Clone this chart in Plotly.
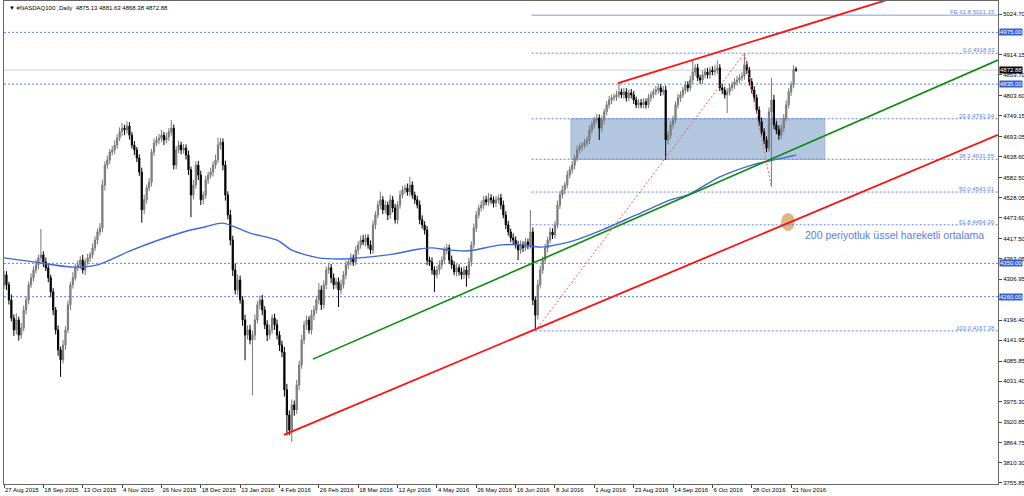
import plotly.graph_objects as go

# ---------------- data ----------------
closes = [
    4319, 4292, 4251, 4202, 4170, 4197, 4156, 4175, 4224, 4251,
    4292, 4311, 4332, 4346, 4365, 4373, 4354, 4338, 4311, 4273,
    4224, 4170, 4116, 4089, 4129, 4170, 4238, 4292, 4311, 4338,
    4346, 4359, 4332, 4354, 4365, 4373, 4392, 4413, 4435, 4446,
    4562, 4616, 4630, 4651, 4657, 4670, 4689, 4706, 4716, 4711,
    4722, 4697, 4670, 4657, 4635, 4597, 4495, 4522, 4554, 4570,
    4651, 4676, 4684, 4689, 4697, 4684, 4692, 4706, 4716, 4616,
    4657, 4670, 4657, 4662, 4643, 4603, 4535, 4562, 4616, 4589,
    4522, 4535, 4576, 4589, 4597, 4616, 4630, 4670, 4678, 4616,
    4535, 4481, 4413, 4332, 4278, 4305, 4251, 4197, 4156, 4170,
    4143, 4156, 4197, 4238, 4251, 4224, 4184, 4156, 4170, 4202,
    4184, 4156, 4129, 4110, 4008, 3940, 3899, 3967, 3954, 4021,
    4075, 4143, 4184, 4197, 4170, 4210, 4224, 4251, 4278, 4238,
    4292, 4332, 4338, 4311, 4292, 4300, 4278, 4292, 4319, 4346,
    4354, 4365, 4354, 4386, 4400, 4413, 4408, 4419, 4400, 4386,
    4454, 4481, 4508, 4522, 4495, 4508, 4481, 4522, 4500, 4468,
    4508, 4535, 4549, 4554, 4543, 4562, 4535, 4522, 4508, 4468,
    4454, 4440, 4359, 4354, 4332, 4319, 4332, 4346, 4359, 4386,
    4392, 4359, 4346, 4327, 4338, 4327, 4319, 4332, 4319, 4354,
    4400, 4446, 4481, 4500, 4508, 4522, 4516, 4527, 4522, 4513,
    4522, 4527, 4508, 4481, 4454, 4435, 4419, 4413, 4400, 4386,
    4400, 4392, 4408, 4400, 4435, 4251, 4210, 4292, 4332, 4359,
    4392, 4413, 4435, 4427, 4454, 4508, 4535, 4549, 4562, 4589,
    4603, 4616, 4635, 4657, 4665, 4670, 4676, 4684, 4711, 4725,
    4738, 4743, 4716, 4738, 4760, 4779, 4792, 4798, 4800, 4806,
    4814, 4806, 4814, 4798, 4811, 4806, 4792, 4779, 4784, 4779,
    4787, 4779, 4798, 4806, 4814, 4819, 4825, 4814, 4819, 4684,
    4697, 4725, 4738, 4779, 4798, 4806, 4819, 4833, 4825, 4846,
    4868, 4879, 4852, 4846, 4860, 4868, 4860, 4873, 4868, 4873,
    4879, 4825, 4819, 4806, 4814, 4825, 4833, 4841, 4846, 4852,
    4857, 4887, 4873, 4841, 4819, 4798, 4765, 4733, 4706, 4684,
    4662, 4760, 4792, 4725, 4711, 4697, 4716, 4743, 4779, 4814, 4833, 4875.13, 4872.88,
]
first_open = 4290

up_wick = [
    12, 10, 8, 15, 10, 18, 9, 14, 12, 10,
    9, 12, 10, 14, 8, 70, 10, 12, 9, 8,
    10, 8, 12, 9, 14, 10, 12, 8, 15, 10,
    12, 10, 14, 9, 11, 8, 12, 10, 9, 13,
    14, 10, 12, 9, 11, 13, 10, 12, 14, 9,
    12, 10, 9, 11, 8, 10, 12, 14, 9, 11,
    9, 12, 10, 11, 14, 9, 12, 10, 22, 10,
    10, 12, 9, 11, 10, 12, 9, 14, 10, 11,
    12, 10, 11, 9, 12, 10, 14, 20, 12, 10,
    12, 10, 14, 12, 18, 15, 12, 10, 14, 12,
    14, 12, 15, 10, 12, 14, 10, 12, 14, 10,
    12, 14, 10, 12, 14, 16, 12, 15, 12, 14,
    12, 14, 10, 12, 10, 14, 12, 10, 19, 12,
    12, 10, 14, 10, 12, 10, 12, 14, 10, 12,
    10, 12, 9, 11, 10, 12, 14, 10, 9, 12,
    12, 10, 11, 22, 10, 12, 9, 14, 10, 11,
    10, 12, 11, 9, 12, 22, 10, 9, 11, 12,
    12, 10, 11, 9, 12, 10, 11, 12, 10, 9,
    11, 9, 12, 10, 11, 9, 12, 10, 11, 12,
    10, 12, 11, 9, 12, 10, 11, 14, 10, 9,
    10, 9, 11, 12, 10, 11, 9, 12, 10, 11,
    12, 10, 11, 9, 60, 12, 10, 14, 12, 10,
    11, 9, 12, 10, 11, 12, 10, 11, 9, 12,
    10, 11, 9, 12, 10, 9, 11, 10, 12, 9,
    9, 11, 10, 12, 9, 10, 11, 9, 10, 11,
    24, 9, 11, 10, 9, 11, 10, 9, 10, 11,
    10, 9, 11, 10, 9, 11, 12, 10, 11, 12,
    11, 10, 12, 9, 11, 10, 9, 11, 10, 12,
    32, 10, 11, 9, 12, 10, 11, 9, 10, 14,
    20, 10, 11, 9, 10, 11, 9, 10, 11, 10,
    10, 32, 11, 9, 10, 11, 9, 10, 12, 10,
    10, 12, 60, 14, 11, 12, 10, 11, 12, 10, 9, 11, 6.5,
]
dn_wick = [
    10, 14, 12, 9, 16, 12, 15, 10, 8, 12,
    12, 8, 10, 9, 12, 10, 14, 9, 12, 15,
    14, 12, 16, 46, 10, 12, 9, 14, 10, 8,
    9, 12, 10, 14, 8, 11, 10, 9, 12, 10,
    12, 15, 10, 11, 9, 12, 10, 8, 12, 14,
    10, 12, 9, 14, 11, 10, 35, 12, 10, 9,
    12, 10, 9, 12, 10, 14, 9, 11, 10, 12,
    11, 9, 12, 10, 12, 14, 60, 12, 10, 14,
    14, 12, 10, 11, 9, 12, 10, 9, 12, 14,
    15, 12, 14, 16, 12, 14, 10, 16, 68, 12,
    12, 150, 14, 10, 12, 14, 12, 16, 12, 10,
    14, 12, 16, 14, 18, 54, 14, 32, 16, 12,
    14, 10, 12, 14, 10, 12, 14, 10, 12, 14,
    10, 12, 10, 14, 12, 10, 46, 12, 10, 12,
    12, 10, 11, 9, 12, 10, 9, 12, 10, 11,
    10, 12, 9, 11, 12, 10, 14, 11, 12, 10,
    12, 10, 9, 11, 10, 12, 10, 11, 9, 12,
    10, 12, 14, 11, 12, 46, 10, 12, 11, 10,
    12, 10, 11, 9, 12, 10, 12, 11, 32, 10,
    12, 10, 11, 9, 10, 12, 9, 10, 11, 12,
    11, 10, 12, 9, 11, 10, 12, 11, 10, 27,
    10, 11, 9, 12, 10, 14, 42.6, 12, 10, 11,
    10, 12, 9, 11, 10, 9, 11, 10, 12, 9,
    9, 10, 11, 9, 10, 12, 9, 10, 11, 10,
    10, 9, 32, 10, 11, 9, 10, 11, 9, 10,
    10, 9, 11, 10, 9, 10, 11, 9, 10, 9,
    9, 10, 9, 11, 10, 9, 10, 11, 9, 54,
    12, 10, 11, 9, 10, 11, 9, 10, 11, 9,
    10, 11, 9, 10, 11, 9, 10, 11, 9, 10,
    10, 9, 11, 10, 49, 10, 9, 11, 10, 9,
    9, 10, 11, 10, 9, 11, 10, 12, 10, 11,
    11, 10, 203, 12, 11, 13, 10, 11, 9, 10, 11, 9, 4.5,
]

# 200-period EMA (bar index, value)
ema_bars = [0, 12, 28, 38, 43, 52, 73, 82, 89, 100, 111, 117, 128, 138, 148, 158, 169,
            174, 181, 189, 202, 210, 218, 222, 230, 243, 257, 271, 278, 291, 304, 313, 322]
ema_vals = [4365, 4354, 4340, 4346, 4359, 4386, 4435, 4449, 4459, 4432, 4413, 4386, 4365,
            4362, 4367, 4375, 4389, 4392, 4386, 4384, 4400, 4400, 4394, 4397, 4408, 4440,
            4481, 4522, 4535, 4584, 4616, 4630, 4643]

# x-axis labels (every 16 bars)
tick_bars = [0, 16, 32, 48, 64, 80, 96, 112, 128, 144, 160, 176, 192, 208, 224, 240,
             256, 272, 288, 304, 320]
tick_dates = ["27 Aug 2015", "18 Sep 2015", "13 Oct 2015", "4 Nov 2015", "26 Nov 2015",
              "18 Dec 2015", "13 Jan 2016", "4 Feb 2016", "26 Feb 2016", "18 Mar 2016",
              "12 Apr 2016", "4 May 2016", "26 May 2016", "16 Jun 2016", "8 Jul 2016",
              "1 Aug 2016", "23 Aug 2016", "14 Sep 2016", "6 Oct 2016", "28 Oct 2016",
              "21 Nov 2016"]

# price-axis labels (those hidden under level boxes in the reference have no text)
price_ticks = [5024.70, 4969.25, 4914.15, 4859.70, 4803.60, 4749.15, 4693.05, 4638.60,
               4582.50, 4528.05, 4473.60, 4417.50, 4363.05, 4306.95, 4252.50, 4196.40,
               4141.95, 4085.85, 4031.40, 3975.30, 3920.85, 3864.75, 3810.30, 3755.85]
hidden_ticks = [4969.25, 4252.50]

# horizontal levels
hlines = [4975.00, 4835.00, 4350.00, 4260.00]
last_price = 4872.88

# Fibonacci retracement + expansion
fib_names = ["0.0", "23.6", "38.2", "50.0", "61.8", "100.0"]
fib_levels = [4918.63, 4741.34, 4631.65, 4543.01, 4454.36, 4167.38]
fib_start_bar = 214.5
fe_label = "FE 61.8"
fe_level = 5021.15
fe_path_bars = [216, 301, 312]
fe_path_vals = [4167.38, 4918.63, 4557.0]

# trend lines (bar, price) anchors
upper_red_bars = [249.6, 362.0]
upper_red_vals = [4838.0, 5069.0]
lower_red_bars = [113.8, 404.1]
lower_red_vals = [3886.0, 4698.0]
green_bars = [125.6, 404.1]
green_vals = [4091.0, 4900.0]

# zone rectangle and highlight ellipse
zone_bars = [230.5, 333.7]
zone_vals = [4631.65, 4741.34]
ellipse_bars = [315.9, 321.5]
ellipse_vals = [4437.7, 4486.4]

note_text = "200 periyotluk üssel hareketli ortalama"
note_bar = 324.8
note_val = 4427.0

title_text = "▼ #NASDAQ100`,Daily  4875.13 4881.63 4868.38 4872.88"

# ---------------- build ----------------
assert len(closes) == len(up_wick) == len(dn_wick)
bars = list(range(len(closes)))
opens = [first_open] + closes[:-1]
highs = [max(o, c) + u for o, c, u in zip(opens, closes, up_wick)]
lows = [min(o, c) - d for o, c, d in zip(opens, closes, dn_wick)]

FONT = "Liberation Sans"
LVL = "#5f82e8"
X_END = 404.1

fig = go.Figure()

fig.add_trace(go.Candlestick(
    x=bars, open=opens, high=highs, low=lows, close=closes,
    increasing=dict(line=dict(color="#777777", width=1), fillcolor="#939393"),
    decreasing=dict(line=dict(color="#000000", width=1), fillcolor="#000000"),
    whiskerwidth=0, showlegend=False, hoverinfo="skip"))

fig.add_trace(go.Scatter(x=ema_bars, y=ema_vals, mode="lines",
                         line=dict(color="#3d66dd", width=1.4, shape="spline", smoothing=0.8),
                         showlegend=False, hoverinfo="skip"))

fig.add_trace(go.Scatter(x=green_bars, y=green_vals, mode="lines",
                         line=dict(color="#0a8a0a", width=1.6), showlegend=False, hoverinfo="skip"))
fig.add_trace(go.Scatter(x=lower_red_bars, y=lower_red_vals, mode="lines",
                         line=dict(color="#ff1010", width=1.8), showlegend=False, hoverinfo="skip"))
fig.add_trace(go.Scatter(x=upper_red_bars, y=upper_red_vals, mode="lines",
                         line=dict(color="#ff1010", width=1.8), showlegend=False, hoverinfo="skip"))
fig.add_trace(go.Scatter(x=fe_path_bars, y=fe_path_vals, mode="lines",
                         line=dict(color="#ff5a5a", width=1, dash="2px,2px"),
                         showlegend=False, hoverinfo="skip"))

shapes = []
shapes.append(dict(type="rect", xref="x", yref="y", x0=zone_bars[0], x1=zone_bars[1],
                   y0=zone_vals[0], y1=zone_vals[1], fillcolor="#b3c6df",
                   line=dict(color="#9fb4d3", width=1), layer="below"))
shapes.append(dict(type="circle", xref="x", yref="y", x0=ellipse_bars[0], x1=ellipse_bars[1],
                   y0=ellipse_vals[0], y1=ellipse_vals[1], fillcolor="#dcb887",
                   line=dict(width=0), layer="below"))
for lv in hlines:
    shapes.append(dict(type="line", xref="paper", yref="y", x0=0, x1=1, y0=lv, y1=lv,
                       line=dict(color=LVL, width=1, dash="2px,2px"), layer="below"))
shapes.append(dict(type="line", xref="paper", yref="y", x0=0, x1=1, y0=last_price, y1=last_price,
                   line=dict(color="#cfcfcf", width=1), layer="below"))
for lv in fib_levels:
    shapes.append(dict(type="line", xref="x", yref="y", x0=fib_start_bar, x1=X_END, y0=lv, y1=lv,
                       line=dict(color=LVL, width=1, dash="2px,2px"), layer="below"))
shapes.append(dict(type="line", xref="x", yref="y", x0=fib_start_bar, x1=X_END, y0=fe_level, y1=fe_level,
                   line=dict(color="#a9bde6", width=1.6), layer="below"))

annotations = []
for nm, lv in zip(fib_names, fib_levels):
    annotations.append(dict(xref="paper", yref="y", x=1, y=lv, xanchor="right", yanchor="bottom",
                            xshift=-1, yshift=-2, showarrow=False, text=f"{nm} {lv:.2f}",
                            font=dict(family=FONT, size=6, color=LVL)))
annotations.append(dict(xref="paper", yref="y", x=1, y=fe_level, xanchor="right", yanchor="bottom",
                        xshift=-1, yshift=-2, showarrow=False, text=f"{fe_label} {fe_level:.2f}",
                        font=dict(family=FONT, size=6, color=LVL)))
for lv in hlines:
    annotations.append(dict(xref="paper", yref="y", x=1, y=lv, xanchor="left", yanchor="middle",
                            xshift=1, showarrow=False, text=f"{lv:.2f}", bgcolor="#3560d8",
                            borderpad=0, font=dict(family=FONT, size=6, color="white")))
annotations.append(dict(xref="paper", yref="y", x=1, y=last_price, xanchor="left", yanchor="middle",
                        xshift=1, showarrow=False, text=f"{last_price:.2f}", bgcolor="#000000",
                        borderpad=0, font=dict(family=FONT, size=6, color="white")))
annotations.append(dict(xref="x", yref="y", x=note_bar, y=note_val, xanchor="left", yanchor="middle",
                        showarrow=False, text=note_text,
                        font=dict(family=FONT, size=10.5, color="#5a7ee2")))
annotations.append(dict(xref="paper", yref="paper", x=0, y=1, xanchor="left", yanchor="top",
                        xshift=3, yshift=-2, showarrow=False, text=title_text,
                        font=dict(family=FONT, size=6, color="#000000")))

fig.update_layout(
    width=1024, height=496,
    margin=dict(l=4, r=26, t=1, b=12, autoexpand=False),
    paper_bgcolor="white", plot_bgcolor="white",
    showlegend=False, hovermode=False,
    shapes=shapes, annotations=annotations,
    xaxis=dict(range=[0, X_END], tickmode="array", tickvals=tick_bars, ticktext=tick_dates,
               tickangle=0, automargin=False,
               ticks="outside", ticklen=3, tickcolor="#444", showline=True, linecolor="#666",
               linewidth=1, mirror=True, showgrid=False, zeroline=False,
               ticklabelposition="outside right", ticklabelstandoff=0,
               tickfont=dict(family=FONT, size=6, color="#000"),
               rangeslider=dict(visible=False)),
    yaxis=dict(range=[3753.1, 5059.9], side="right", tickmode="array", tickvals=price_ticks,
               ticktext=["" if v in hidden_ticks else f"{v:.2f}" for v in price_ticks],
               automargin=False, ticks="outside", ticklen=3,
               tickcolor="#444", showline=True, linecolor="#666", linewidth=1, mirror=True,
               showgrid=False, zeroline=False,
               tickfont=dict(family=FONT, size=6, color="#000")),
)

fig.write_html("out.html",
               config={"displayModeBar": False},
               post_script="document.body.style.margin='0';document.body.style.padding='0';"
                           "document.documentElement.style.overflow='hidden';")
